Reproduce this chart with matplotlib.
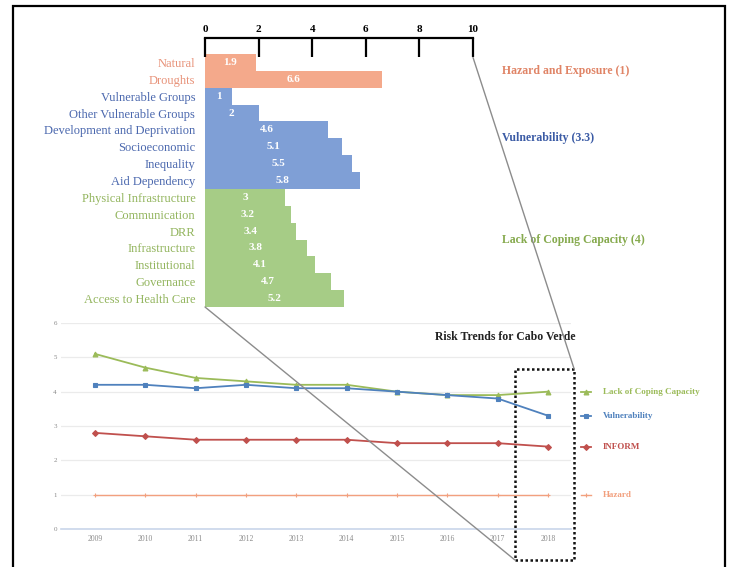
import matplotlib
matplotlib.use("Agg")
import matplotlib.pyplot as plt
from matplotlib.patches import Rectangle, ConnectionPatch
import numpy as np

plt.rcParams['font.family'] = ['Liberation Serif', 'DejaVu Serif']

# ---------------- data ----------------
categories = ["Natural", "Droughts",
              "Vulnerable Groups", "Other Vulnerable Groups", "Development and Deprivation",
              "Socioeconomic", "Inequality", "Aid Dependency",
              "Physical Infrastructure", "Communication", "DRR", "Infrastructure",
              "Institutional", "Governance", "Access to Health Care"]
values = [1.9, 6.6, 1, 2, 4.6, 5.1, 5.5, 5.8, 3, 3.2, 3.4, 3.8, 4.1, 4.7, 5.2]
groups = ["H", "H", "V", "V", "V", "V", "V", "V", "C", "C", "C", "C", "C", "C", "C"]
group_titles = {"H": "Hazard and Exposure (1)", "V": "Vulnerability (3.3)",
                "C": "Lack of Coping Capacity (4)"}
bar_ticks = [0, 2, 4, 6, 8, 10]

years = [2009, 2010, 2011, 2012, 2013, 2014, 2015, 2016, 2017, 2018]
coping = [5.1, 4.7, 4.4, 4.3, 4.2, 4.2, 4.0, 3.9, 3.9, 4.0]
vulnerability = [4.2, 4.2, 4.1, 4.2, 4.1, 4.1, 4.0, 3.9, 3.8, 3.3]
inform = [2.8, 2.7, 2.6, 2.6, 2.6, 2.6, 2.5, 2.5, 2.5, 2.4]
hazard = [1, 1, 1, 1, 1, 1, 1, 1, 1, 1]
line_yticks = [0, 1, 2, 3, 4, 5, 6]

# ---------------- styles ----------------
bar_col = {"H": "#F4A98B", "V": "#7F9FD6", "C": "#A6CC86"}
lab_col = {"H": "#E8937A", "V": "#4B68AE", "C": "#93B55E"}
title_col = {"H": "#E08466", "V": "#3B5BA5", "C": "#86AA4E"}

W, H = 729, 567
fig = plt.figure(figsize=(W / 100, H / 100), dpi=100)

def fx(px):
    return px / W

def fy(py):
    return 1 - py / H

# ---------------- bar chart ----------------
axb = fig.add_axes([fx(205), fy(307), fx(473) - fx(205), fy(38) - fy(307)])
ypos = np.arange(len(categories))
axb.barh(ypos, values, height=1.0, color=[bar_col[g] for g in groups],
         edgecolor='none', align='center')
for y, v in zip(ypos, values):
    axb.text(v / 2, y, f"{v:g}", color='white', ha='center', va='center',
             fontsize=8, fontweight='bold')
axb.set_xlim(0, 10)
axb.set_ylim(14.5, -1.45)
for s in ['left', 'right', 'bottom']:
    axb.spines[s].set_visible(False)
axb.spines['top'].set_linewidth(1.6)
axb.xaxis.set_ticks_position('top')
axb.set_xticks(bar_ticks)
axb.set_xticklabels([str(t) for t in bar_ticks], fontsize=8, fontweight='bold')
axb.tick_params(axis='x', direction='in', length=13.5, width=1.6, pad=3)
axb.set_yticks(ypos)
axb.set_yticklabels(categories, fontsize=9)
axb.tick_params(axis='y', length=0, pad=7)
for lbl, g in zip(axb.get_yticklabels(), groups):
    lbl.set_color(lab_col[g])
axb.patch.set_alpha(0)

# group titles
for g in ["H", "V", "C"]:
    idx = [i for i, gg in enumerate(groups) if gg == g]
    ymid = (idx[0] + idx[-1]) / 2
    if g == "C":
        ymid -= 0.5
    axb.text(11.1, ymid, group_titles[g], color=title_col[g], fontsize=8.5,
             fontweight='bold', ha='left', va='center', clip_on=False)

# ---------------- line chart ----------------
axl = fig.add_axes([fx(61), fy(529), fx(571) - fx(61), fy(323) - fy(529)])
x0 = 2009 - (95 - 61) / 50.33
x1 = 2018 + (571 - 548) / 50.33
axl.set_xlim(x0, x1)
axl.set_ylim(0, 6)
axl.set_yticks(line_yticks)
axl.set_yticklabels([str(t) for t in line_yticks], fontsize=5, color='#888888')
axl.set_xticks(years)
axl.set_xticklabels([str(y) for y in years], fontsize=5.5, color='#8a8a8a')
axl.tick_params(axis='both', length=0)
axl.tick_params(axis='y', pad=3)
axl.tick_params(axis='x', pad=4)
for s in ['left', 'right', 'top']:
    axl.spines[s].set_visible(False)
axl.spines['bottom'].set_color('#C9D6EA')
axl.spines['bottom'].set_linewidth(1.2)
axl.yaxis.grid(True, color='#EBEBEB', linewidth=0.9)
axl.set_axisbelow(True)
axl.patch.set_alpha(0)

series = [
    ("Lack of Coping Capacity", coping, "#9BBB59", '^', 3.5),
    ("Vulnerability", vulnerability, "#4F81BD", 's', 3.5),
    ("INFORM", inform, "#C0504D", 'D', 3),
    ("Hazard", hazard, "#F2A07E", '+', 3.5),
]
lx = 2018.76
tx = 2019.09
for name, vals, col, mk, ms in series:
    lw = 1.3 if name != "Hazard" else 1.0
    axl.plot(years, vals, color=col, lw=lw, marker=mk, markersize=ms,
             markeredgewidth=0.8)
    axl.plot([lx - 0.1, lx + 0.1], [vals[-1], vals[-1]], color=col, lw=lw,
             clip_on=False)
    axl.plot([lx], [vals[-1]], color=col, marker=mk, markersize=ms,
             markeredgewidth=0.8, clip_on=False)
    axl.text(tx, vals[-1], name, color=col, fontsize=6.5, fontweight='bold',
             ha='left', va='center', clip_on=False)

axl.text(2017.15, 5.59, "Risk Trends for Cabo Verde", fontsize=8.5,
         fontweight='bold', ha='center', va='center', color='#222222')

# dotted highlight box around latest year
bx0, bx1 = years[-1] - 0.66, years[-1] + 0.52
by0, by1 = -0.9, 4.66
axl.add_patch(Rectangle((bx0, by0), bx1 - bx0, by1 - by0, fill=False,
                        linestyle=(0, (1, 1)), linewidth=1.8, edgecolor='#111111',
                        clip_on=False))

# connectors (zoom lines)
c1 = ConnectionPatch(xyA=(0, 14.5), coordsA=axb.transData,
                     xyB=(bx0, by0), coordsB=axl.transData,
                     color='#8c8c8c', lw=1.0)
c2 = ConnectionPatch(xyA=(10, -0.3), coordsA=axb.transData,
                     xyB=(bx1, by1), coordsB=axl.transData,
                     color='#8c8c8c', lw=1.0)
fig.add_artist(c1)
fig.add_artist(c2)

# outer frame
fig.add_artist(Rectangle((fx(13), fy(575)), fx(725) - fx(13), fy(6) - fy(575),
                         transform=fig.transFigure, fill=False, edgecolor='black',
                         linewidth=1.6, clip_on=False))

fig.savefig("out.png", dpi=100)
